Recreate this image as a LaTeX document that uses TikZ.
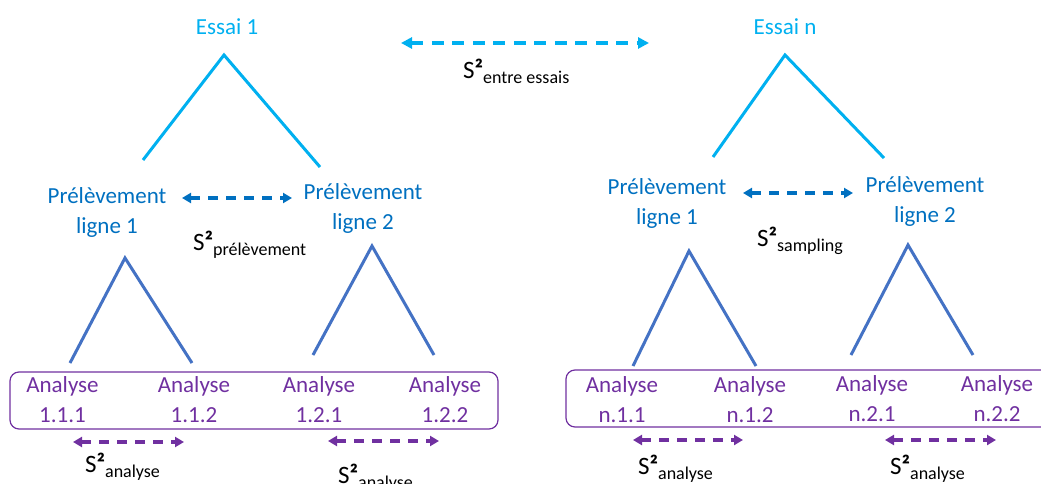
\documentclass[tikz,border=0pt]{standalone}
\usepackage{fontspec}
\setmainfont{Carlito}
\usetikzlibrary{arrows.meta}
\definecolor{cyanE}{RGB}{0,176,240}
\definecolor{blueP}{RGB}{0,112,192}
\definecolor{blueT}{RGB}{68,114,196}
\definecolor{purpleA}{RGB}{112,48,160}
\newcommand{\svar}[1]{{\fontsize{25}{25}\selectfont S{\bfseries ²}}\raisebox{-5pt}{\fontsize{18}{18}\selectfont #1}}
\begin{document}
\begin{tikzpicture}[x=1pt,y=-1pt,
  txt/.style={inner sep=0pt, align=center, anchor=base, font=\fontsize{23}{29.5}\selectfont},
  essai/.style={txt, text=cyanE},
  prel/.style={txt, text=blueP},
  ana/.style={txt, text=purpleA},
  svl/.style={inner sep=0pt, anchor=base west, text=black},
  treeE/.style={draw=cyanE, line width=3pt},
  treeA/.style={draw=blueT, line width=3pt},
  varE/.style={draw=cyanE, line width=3.6pt, dash pattern=on 12pt off 8.5pt, {Triangle[length=11pt,width=11pt]}-{Triangle[length=11pt,width=11pt]}},
  varP/.style={draw=blueP, line width=3.2pt, dash pattern=on 10pt off 8pt, {Triangle[length=9pt,width=10pt]}-{Triangle[length=9pt,width=10pt]}},
  varA/.style={draw=purpleA, line width=3.2pt, dash pattern=on 10pt off 8pt, {Triangle[length=9pt,width=10pt]}-{Triangle[length=9pt,width=10pt]}},
  boxA/.style={draw=purpleA, line width=1.2pt, rounded corners=9pt}
]
\useasboundingbox (0,0) rectangle (1041,484);
\clip (0,0) rectangle (1041,484);

% trial level
\node[essai] (e1) at (227,35) {Essai 1};
\node[essai] (en) at (785,35) {Essai n};
\coordinate (ea1) at (401,43);
\coordinate (ea2) at (649,43);
\draw[varE] (ea1) -- (ea2);
\node[svl] (se) at (463,79) {\svar{entre essais}};

% trees from trials
\coordinate (t1a) at (224,55); \coordinate (t1l) at (143,160); \coordinate (t1r) at (320,167);
\coordinate (tna) at (785,55); \coordinate (tnl) at (713,157); \coordinate (tnr) at (884,158);
\draw[treeE] (t1l) -- (t1a) -- (t1r);
\draw[treeE] (tnl) -- (tna) -- (tnr);

% sampling level (base anchor = baseline of last line)
\node[prel] (p11) at (107,233) {Prélèvement\\ligne 1};
\node[prel] (p12) at (363,229) {Prélèvement\\ligne 2};
\node[prel] (pn1) at (667,224) {Prélèvement\\ligne 1};
\node[prel] (pn2) at (925,222) {Prélèvement\\ligne 2};
\coordinate (pa1) at (182,198); \coordinate (pa2) at (292,198);
\coordinate (pb1) at (743,193); \coordinate (pb2) at (853,193);
\draw[varP] (pa1) -- (pa2);
\draw[varP] (pb1) -- (pb2);
\node[svl] (sp) at (193,250) {\svar{prélèvement}};
\node[svl] (ss) at (757,246) {\svar{sampling}};

% trees from sampling
\coordinate (u1a) at (125,258); \coordinate (u1l) at (70,363); \coordinate (u1r) at (192,363);
\coordinate (u2a) at (372,246); \coordinate (u2l) at (313,355); \coordinate (u2r) at (434,355);
\coordinate (u3a) at (689,251); \coordinate (u3l) at (633,366); \coordinate (u3r) at (756,366);
\coordinate (u4a) at (908,245); \coordinate (u4l) at (851,355); \coordinate (u4r) at (973,355);
\draw[treeA] (u1l) -- (u1a) -- (u1r);
\draw[treeA] (u2l) -- (u2a) -- (u2r);
\draw[treeA] (u3l) -- (u3a) -- (u3r);
\draw[treeA] (u4l) -- (u4a) -- (u4r);

% analysis boxes
\draw[boxA] (10,372) rectangle (498,429);
\draw[boxA] (566,370) rectangle (1060,427);
\node[ana] (a111) at (62.5,422) {Analyse\\1.1.1};
\node[ana] (a112) at (194,422) {Analyse\\1.1.2};
\node[ana] (a121) at (319,422) {Analyse\\1.2.1};
\node[ana] (a122) at (445,422) {Analyse\\1.2.2};
\node[ana] (an11) at (622,422) {Analyse\\n.1.1};
\node[ana] (an12) at (750,422) {Analyse\\n.1.2};
\node[ana] (an21) at (872,421) {Analyse\\n.2.1};
\node[ana] (an22) at (997,421) {Analyse\\n.2.2};

% analysis variances
\coordinate (v1a) at (73,442); \coordinate (v1b) at (184,442);
\coordinate (v2a) at (328,441); \coordinate (v2b) at (439,441);
\coordinate (v3a) at (633,440); \coordinate (v3b) at (743,440);
\coordinate (v4a) at (885,440); \coordinate (v4b) at (996,440);
\draw[varA] (v1a) -- (v1b);
\draw[varA] (v2a) -- (v2b);
\draw[varA] (v3a) -- (v3b);
\draw[varA] (v4a) -- (v4b);
\node[svl] (sa1) at (85,472) {\svar{analyse}};
\node[svl] (sa2) at (338,483) {\svar{analyse}};
\node[svl] (sa3) at (638,474) {\svar{analyse}};
\node[svl] (sa4) at (890,474) {\svar{analyse}};
\end{tikzpicture}
\end{document}
